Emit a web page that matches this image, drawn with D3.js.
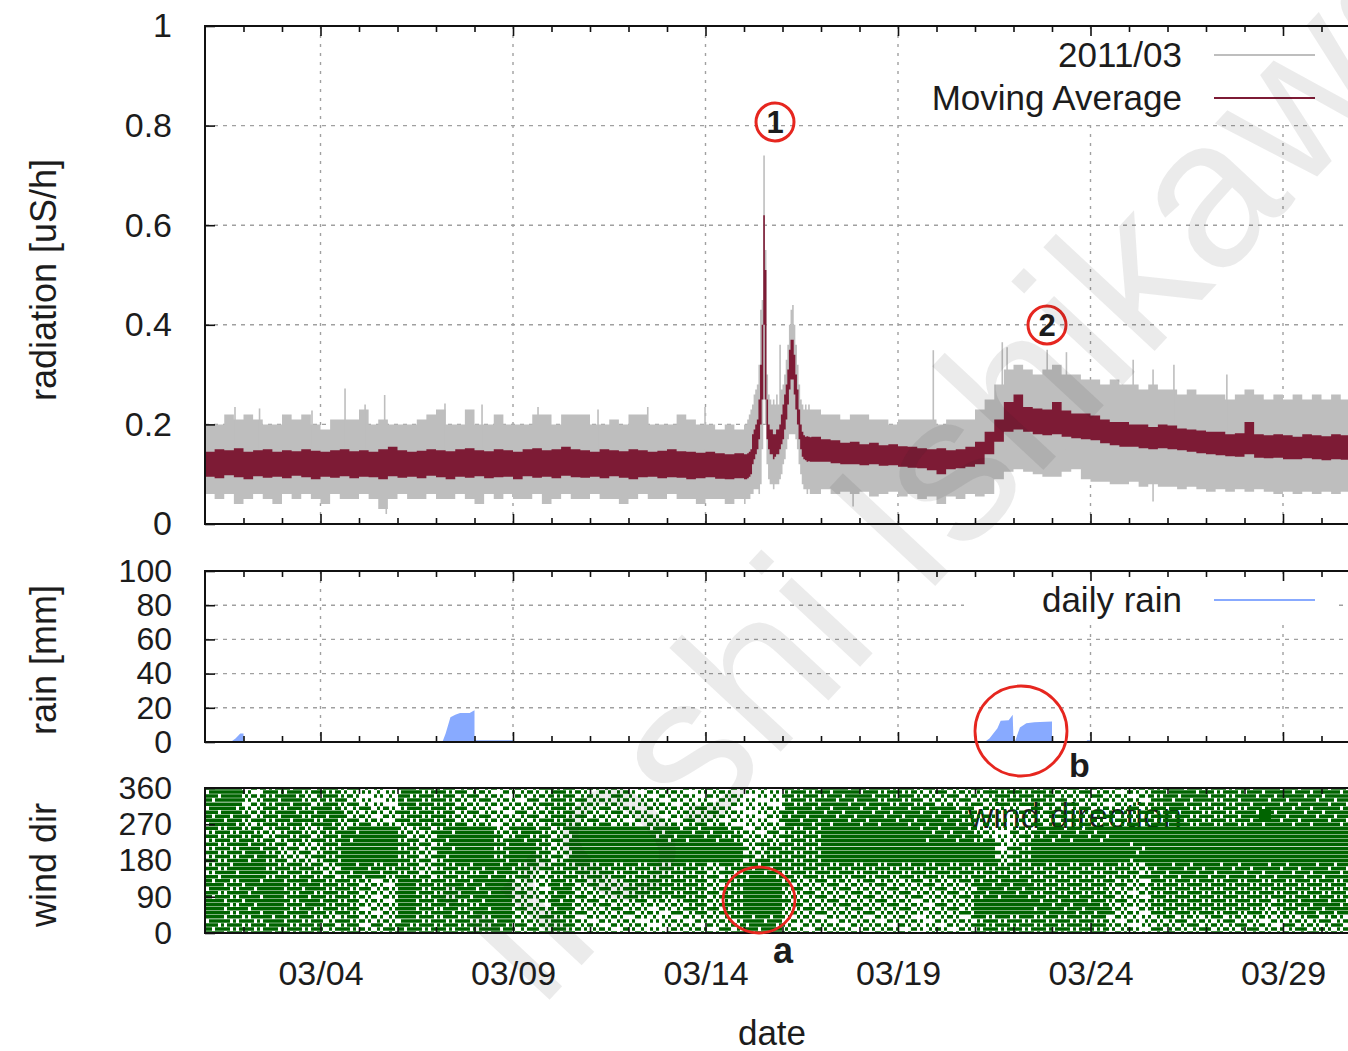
<!DOCTYPE html>
<html>
<head>
<meta charset="utf-8">
<script src="https://cdn.jsdelivr.net/npm/d3@7"></script>
<style>
  body { margin: 0; background: #fff; }
  svg { display: block; }
  text { font-family: "Liberation Sans", Arial, sans-serif; fill: #1c1c1c; }
</style>
</head>
<body>
<svg id="chart" width="1348" height="1051"></svg>
<script>
// ---------------- data ----------------
const START = Date.UTC(2011, 2, 1);          // 2011/03/01 00:00
const hourDate = h => new Date(START + h * 3600000);

// radiation, sampled every 6 h, hourly around the 03/15 - 03/16 peaks
const radHours = [].concat(d3.range(0, 336, 6), d3.range(336, 378, 1), d3.range(378, 745, 6));

// envelope of the raw 2011/03 series (uS/h)
const grayHigh = [
  0.20,0.20,0.22,0.21,0.22,0.21,0.20,0.20,0.22,0.21, 0.22,0.20,0.19,0.21,0.21,0.21,0.23,0.20,0.21,0.20,
  0.20,0.20,0.21,0.22,0.23,0.20,0.20,0.23,0.20,0.20, 0.22,0.20,0.20,0.20,0.22,0.22,0.20,0.22,0.22,0.22,
  0.20,0.20,0.21,0.20,0.22,0.22,0.20,0.20,0.20,0.22, 0.21,0.20,0.20,0.19,0.20,0.19,
  0.20,
  0.20,0.21,0.22,0.23,0.24,0.26,0.27,0.28,0.32,0.43, 0.45,0.74,0.55,0.30,0.26,0.25,0.24,0.25,0.24,0.26,
  0.24,0.36,0.27,0.28,0.30,0.33,0.36,0.40,0.43,0.44, 0.40,0.36,0.32,0.28,0.25,0.24,0.23,0.24,0.23,0.24,
  0.23,
  0.23,0.22,0.22,0.21,0.22,0.22,0.21,0.21,0.20,0.21, 0.21,0.21,0.21,0.20,0.21,0.21,0.21,0.23,0.25,0.28,
  0.31,0.32,0.31,0.30,0.31,0.32,0.30,0.30,0.29,0.29, 0.28,0.29,0.28,0.28,0.27,0.28,0.27,0.27,0.26,0.27,
  0.26,0.26,0.26,0.25,0.26,0.27,0.26,0.25,0.26,0.25, 0.26,0.25,0.26,0.25,0.26,0.25,0.25,0.25,0.25,0.25,
  0.25,0.25
];
const grayLow = [
  0.06,0.05,0.06,0.04,0.05,0.06,0.05,0.04,0.06,0.05, 0.06,0.05,0.04,0.06,0.05,0.05,0.06,0.05,0.03,0.05,
  0.06,0.05,0.05,0.06,0.05,0.05,0.06,0.05,0.04,0.06, 0.05,0.06,0.05,0.05,0.06,0.04,0.05,0.06,0.05,0.05,
  0.06,0.05,0.05,0.04,0.05,0.06,0.05,0.05,0.06,0.05, 0.05,0.04,0.05,0.05,0.04,0.05,
  0.04,
  0.05,0.05,0.05,0.06,0.06,0.07,0.07,0.07,0.06,0.08, 0.15,0.25,0.20,0.12,0.09,0.08,0.08,0.07,0.08,0.08,
  0.08,0.09,0.10,0.12,0.13,0.15,0.17,0.18,0.18,0.18, 0.18,0.17,0.15,0.12,0.10,0.08,0.07,0.07,0.06,0.07,
  0.06,
  0.06,0.07,0.06,0.065,0.06,0.065,0.055,0.06,0.065,0.055, 0.06,0.05,0.055,0.04,0.055,0.05,0.06,0.055,0.06,0.09,
  0.105,0.11,0.105,0.10,0.095,0.095,0.105,0.11,0.09,0.085, 0.085,0.08,0.08,0.085,0.075,0.08,0.075,0.075,0.07,0.075,
  0.07,0.065,0.07,0.065,0.07,0.065,0.07,0.065,0.06,0.065, 0.06,0.065,0.06,0.065,0.06,0.065,0.06,0.06,0.06,0.06,
  0.06,0.06
];
// envelope of the moving average
const avgHigh = [
  0.145,0.15,0.148,0.152,0.145,0.148,0.15,0.145,0.148,0.146, 0.15,0.147,0.145,0.148,0.15,0.146,0.148,0.145,0.15,0.155,
  0.148,0.145,0.147,0.15,0.148,0.146,0.15,0.152,0.148,0.146, 0.15,0.148,0.145,0.15,0.152,0.148,0.15,0.155,0.15,0.148,
  0.145,0.15,0.148,0.146,0.15,0.148,0.145,0.147,0.15,0.146, 0.145,0.143,0.145,0.142,0.14,0.142,
  0.14,
  0.14,0.142,0.145,0.15,0.18,0.19,0.20,0.21,0.25,0.32, 0.40,0.62,0.51,0.25,0.20,0.19,0.19,0.18,0.18,0.19,
  0.19,0.20,0.22,0.24,0.26,0.28,0.31,0.35,0.37,0.37, 0.34,0.30,0.27,0.23,0.20,0.185,0.178,0.175,0.176,0.175,
  0.174,
  0.175,0.17,0.168,0.163,0.165,0.16,0.163,0.158,0.16,0.156, 0.155,0.152,0.15,0.152,0.148,0.15,0.155,0.165,0.185,0.21,
  0.245,0.26,0.235,0.232,0.23,0.245,0.228,0.222,0.222,0.218, 0.21,0.205,0.205,0.2,0.2,0.195,0.2,0.198,0.192,0.19,
  0.188,0.185,0.185,0.18,0.182,0.205,0.18,0.178,0.18,0.178, 0.175,0.18,0.178,0.176,0.18,0.178,0.176,0.175,0.175,0.174,
  0.175,0.174
];
const avgLow = [
  0.095,0.092,0.098,0.094,0.09,0.096,0.093,0.095,0.092,0.097, 0.094,0.09,0.095,0.093,0.096,0.092,0.095,0.094,0.09,0.096,
  0.093,0.095,0.092,0.097,0.094,0.09,0.095,0.093,0.096,0.092, 0.094,0.095,0.09,0.096,0.093,0.095,0.092,0.097,0.094,0.093,
  0.095,0.092,0.096,0.093,0.09,0.094,0.095,0.092,0.094,0.093, 0.09,0.092,0.094,0.091,0.09,0.092,
  0.09,
  0.09,0.092,0.095,0.10,0.12,0.13,0.14,0.15,0.17,0.20, 0.25,0.40,0.25,0.17,0.15,0.14,0.14,0.13,0.135,0.14,
  0.14,0.15,0.16,0.17,0.19,0.21,0.24,0.27,0.29,0.29, 0.26,0.23,0.20,0.17,0.15,0.135,0.13,0.128,0.125,0.126,
  0.125,
  0.125,0.125,0.122,0.12,0.12,0.118,0.12,0.117,0.118,0.115, 0.113,0.112,0.108,0.10,0.11,0.112,0.115,0.12,0.14,0.165,
  0.185,0.19,0.185,0.18,0.178,0.18,0.175,0.172,0.17,0.168, 0.162,0.158,0.155,0.155,0.152,0.15,0.152,0.15,0.148,0.145,
  0.142,0.14,0.138,0.136,0.135,0.14,0.133,0.132,0.133,0.13, 0.13,0.132,0.13,0.128,0.13,0.129,0.128,0.128,0.128,0.128,
  0.128,0.128
];
// isolated tall / low readings of the raw series
const spikeHours  = [18.7, 34, 66.7, 87.3, 99.8, 112, 149.6, 172.7, 207.6, 245, 276, 311.7,
                     454, 497, 500, 525, 537, 578.6, 591, 604, 637];
const spikeValues = [0.235, 0.232, 0.228, 0.272, 0.24, 0.259, 0.242, 0.24, 0.235, 0.23, 0.235, 0.235,
                     0.349, 0.365, 0.355, 0.35, 0.345, 0.33, 0.31, 0.32, 0.30];
const dipHours  = [113, 404, 591];
const dipValues = [0.02, 0.035, 0.045];

// daily rain (mm), accumulated within each day
const rainHours = [0, 16, 19, 22, 24, 24, 148, 150, 153, 156, 159, 165, 168, 168, 192, 192,
                   486, 489, 494, 496, 501, 503.5, 504, 505, 508, 512, 517, 528, 528, 549, 550, 552, 552, 744];
const rainMM    = [0, 0, 2, 5, 5, 0, 0, 5, 14.5, 16, 17, 17, 18.5, 1, 1, 0,
                   0, 2, 8, 12.5, 12.7, 16, 1, 0.5, 8.5, 11, 11.5, 12, 0, 0, 1, 1, 0, 0];

// wind direction: share of 10-min readings (0-9) per 12 h and 45 deg sector
const windBinHours = 12;
const windSectors = [0, 45, 90, 135, 180, 225, 270, 315];
const windDensity = [
  "655655453465555644533332333466333333323355555553244444434444",   //   0 -  45
  "856756553375656743644443454588444444434488866664355555545666",   //  45 -  90
  "656756554375566743644455554577444444444466655554355555555555",   //  90 - 135
  "567555466554556654555555554566555555555555555555466666666666",   // 135 - 180
  "556544589854679575478888877745557777777773577777688888888888",   // 180 - 225
  "555454569844678465478886666534557777766642466667777777777777",   // 225 - 270
  "664565644355544344544433344323666666666532344444456555666666",   // 270 - 315
  "673564542265544334543423323322556665544445554443356655666666"    // 315 - 360
];

// axes
const radTicks  = [0, 0.2, 0.4, 0.6, 0.8, 1];
const rainTicks = [0, 20, 40, 60, 80, 100];
const windTicks = [0, 90, 180, 270, 360];
const labelDays = [4, 9, 14, 19, 24, 29];

// ---------------- layout ----------------
const svg = d3.select("#chart");
const X0 = 205, X1 = 1398.5;
const x = d3.scaleUtc().domain([hourDate(0), hourDate(744)]).range([X0, X1]);
const majorDates = labelDays.map(d => new Date(Date.UTC(2011, 2, d)));
const minorDates = d3.range(2, 32).filter(d => !labelDays.includes(d)).map(d => new Date(Date.UTC(2011, 2, d)));

const panels = {
  rad:  { top: 26,  bottom: 524, domain: [0, 1],   ticks: radTicks,  fs: 34, fmt: d => d === 0 ? "0" : d === 1 ? "1" : d3.format(".1f")(d) },
  rain: { top: 571, bottom: 742, domain: [0, 100], ticks: rainTicks, fs: 32, fmt: d3.format("d") },
  wind: { top: 788, bottom: 933, domain: [0, 360], ticks: windTicks, fs: 32, fmt: d3.format("d") }
};
Object.values(panels).forEach(p => { p.y = d3.scaleLinear().domain(p.domain).range([p.bottom, p.top]); });

const gray = "#bebebe", maroon = "#7d1b35", rainBlue = "#88aaff", windGreen = "#006400", red = "#e6261f";

const defs = svg.append("defs");
Object.entries(panels).forEach(([k, p]) => {
  defs.append("clipPath").attr("id", "clip-" + k)
    .append("rect").attr("x", X0).attr("y", p.top).attr("width", X1 - X0).attr("height", p.bottom - p.top);
});

// grid lines
function grid(p, yVals) {
  const g = svg.append("g").attr("stroke", "#a0a0a0").attr("stroke-width", 1.4);
  g.selectAll(".gy").data(yVals).join("line")
    .attr("x1", X0).attr("x2", X1).attr("y1", d => p.y(d)).attr("y2", d => p.y(d))
    .attr("stroke-dasharray", "4,5");
  g.selectAll(".gx").data(majorDates).join("line")
    .attr("x1", d => x(d)).attr("x2", d => x(d)).attr("y1", p.top).attr("y2", p.bottom)
    .attr("stroke-dasharray", "3,6");
}
grid(panels.rad, [0.2, 0.4, 0.6, 0.8]);
grid(panels.rain, [20, 40, 60, 80]);

// ---------------- radiation panel ----------------
const rp = panels.rad;
const radRows = radHours.map((h, i) => ({ t: hourDate(h), gh: grayHigh[i], gl: grayLow[i], ah: avgHigh[i], al: avgLow[i] }));
const radG = svg.append("g").attr("clip-path", "url(#clip-rad)");

radG.append("path").datum(radRows)
  .attr("fill", gray)
  .attr("d", d3.area().curve(d3.curveStepAfter).x(d => x(d.t)).y0(d => rp.y(d.gl)).y1(d => rp.y(d.gh)));

radG.selectAll(".spike").data(spikeHours.map((h, i) => ({ t: hourDate(h), v: spikeValues[i] })))
  .join("line").attr("stroke", gray).attr("stroke-width", 1.6)
  .attr("x1", d => x(d.t)).attr("x2", d => x(d.t)).attr("y1", rp.y(0.15)).attr("y2", d => rp.y(d.v));
radG.selectAll(".dip").data(dipHours.map((h, i) => ({ t: hourDate(h), v: dipValues[i] })))
  .join("line").attr("stroke", gray).attr("stroke-width", 1.6)
  .attr("x1", d => x(d.t)).attr("x2", d => x(d.t)).attr("y1", rp.y(0.1)).attr("y2", d => rp.y(d.v));

radG.append("path").datum(radRows)
  .attr("fill", maroon)
  .attr("d", d3.area().curve(d3.curveStepAfter).x(d => x(d.t)).y0(d => rp.y(d.al)).y1(d => rp.y(d.ah)));

// key (opaque box)
svg.append("rect").attr("x", 912).attr("y", 29).attr("width", 428).attr("height", 90).attr("fill", "#fff");
const radKey = [{ name: "2011/03", color: gray, y: 55 }, { name: "Moving Average", color: maroon, y: 98 }];
radKey.forEach(k => {
  svg.append("text").attr("x", 1182).attr("y", k.y + 12).attr("text-anchor", "end").attr("font-size", 35).text(k.name);
  svg.append("line").attr("x1", 1214).attr("x2", 1315).attr("y1", k.y).attr("y2", k.y).attr("stroke", k.color).attr("stroke-width", 2);
});

// ---------------- rain panel ----------------
const rn = panels.rain;
svg.append("g").attr("clip-path", "url(#clip-rain)")
  .append("path").datum(rainHours.map((h, i) => ({ t: hourDate(h), v: rainMM[i] })))
  .attr("fill", rainBlue)
  .attr("d", d3.area().x(d => x(d.t)).y0(rn.y(0)).y1(d => rn.y(d.v)));

svg.append("rect").attr("x", 964).attr("y", 578).attr("width", 372).attr("height", 42).attr("fill", "#fff");
svg.append("text").attr("x", 1182).attr("y", 612).attr("text-anchor", "end").attr("font-size", 35).text("daily rain");
svg.append("line").attr("x1", 1214).attr("x2", 1315).attr("y1", 600).attr("y2", 600).attr("stroke", rainBlue).attr("stroke-width", 2);

// ---------------- wind panel ----------------
const wp = panels.wind;
svg.append("text").attr("x", 1182).attr("y", 828).attr("text-anchor", "end").attr("font-size", 35).attr("fill", "#333").text("wind direction");

// readings come in 10 deg steps, so the marks sit on rows; each 12 h x 45 deg cell
// is shaded with an ordered dither matching its share of readings
const bayer = [[0, 8, 2, 10], [12, 4, 14, 6], [3, 11, 1, 9], [15, 7, 13, 5]];
const colW = 3;
let dots = "";
d3.range(0, 361, 10).forEach((deg, j) => {
  const py = wp.y(deg) - 1.75;
  const s = Math.min(windSectors.length - 1, Math.floor(Math.min(deg, 359) / 45));
  for (let i = 0, px = X0 + 1; px < X1 - 2; i++, px += colW) {
    const h = (x.invert(px + colW / 2) - START) / 3600000;
    const bin = Math.floor(h / windBinHours);
    if (bin >= windDensity[0].length) break;
    const level = Math.min(1, +windDensity[s][bin] / 6.8);
    if ((bayer[(j + (i >> 2)) % 4][i % 4] + 0.5) / 16 < level) dots += `M${px.toFixed(1)},${py.toFixed(1)}h3v3.5h-3z`;
  }
});
svg.append("g").attr("clip-path", "url(#clip-wind)")
  .append("path").attr("d", dots).attr("fill", windGreen);
svg.append("rect").attr("x", 1259).attr("y", 809).attr("width", 12).attr("height", 12).attr("fill", windGreen);

// ---------------- frames, ticks, labels ----------------
Object.entries(panels).forEach(([k, p]) => {
  const isWind = k === "wind";
  svg.append("g").attr("transform", `translate(0,${p.bottom})`)
    .call(d3.axisBottom(x).tickValues(majorDates).tickSize(-10).tickPadding(28)
      .tickFormat(isWind ? d3.utcFormat("%m/%d") : () => ""))
    .selectAll("text").attr("font-size", 34);
  svg.append("g").attr("transform", `translate(0,${p.bottom})`)
    .call(d3.axisBottom(x).tickValues(minorDates).tickSize(-6).tickFormat(() => ""));
  svg.append("g").attr("transform", `translate(0,${p.top})`)
    .call(d3.axisTop(x).tickValues(majorDates).tickSize(-10).tickFormat(() => ""));
  svg.append("g").attr("transform", `translate(0,${p.top})`)
    .call(d3.axisTop(x).tickValues(minorDates).tickSize(-6).tickFormat(() => ""));
  svg.append("g").attr("transform", `translate(${X0},0)`)
    .call(d3.axisLeft(p.y).tickValues(p.ticks).tickSize(-10).tickPadding(33).tickFormat(p.fmt))
    .selectAll("text").attr("font-size", p.fs);
  svg.append("rect").attr("x", X0).attr("y", p.top).attr("width", X1 - X0).attr("height", p.bottom - p.top)
    .attr("fill", "none").attr("stroke", "#111").attr("stroke-width", 2);
});
svg.selectAll(".domain").remove();
svg.selectAll(".tick line").attr("stroke", "#111").attr("stroke-width", 1.6);
svg.selectAll(".tick text").attr("fill", "#1c1c1c")
  .style("font-family", '"Liberation Sans", Arial, sans-serif');

const yTitles = [
  { text: "radiation [uS/h]", y: 280 },
  { text: "rain [mm]", y: 660 },
  { text: "wind dir", y: 865 }
];
yTitles.forEach(t => {
  svg.append("text").attr("transform", `translate(56,${t.y}) rotate(-90)`)
    .attr("text-anchor", "middle").attr("font-size", 36).text(t.text);
});
svg.append("text").attr("x", 772).attr("y", 1045).attr("text-anchor", "middle").attr("font-size", 35).text("date");

// ---------------- annotations ----------------
const notes = [
  { cx: 775, cy: 122, label: "1" },
  { cx: 1047, cy: 325, label: "2" }
];
notes.forEach(n => {
  svg.append("circle").attr("cx", n.cx).attr("cy", n.cy).attr("r", 19)
    .attr("fill", "none").attr("stroke", red).attr("stroke-width", 3);
  svg.append("text").attr("x", n.cx).attr("y", n.cy + 11).attr("text-anchor", "middle")
    .attr("font-size", 31).attr("font-weight", "bold").attr("fill", red).text(n.label);
});
svg.append("ellipse").attr("cx", 1021).attr("cy", 731).attr("rx", 46).attr("ry", 45)
  .attr("fill", "none").attr("stroke", red).attr("stroke-width", 2.8);
svg.append("text").attr("x", 1069).attr("y", 777).attr("font-size", 34).attr("font-weight", "bold").attr("fill", red).text("b");
svg.append("ellipse").attr("cx", 759).attr("cy", 900).attr("rx", 36).attr("ry", 33)
  .attr("fill", "none").attr("stroke", red).attr("stroke-width", 2.8);
svg.append("text").attr("x", 773).attr("y", 963).attr("font-size", 36).attr("font-weight", "bold").attr("fill", red).text("a");

// ---------------- watermark ----------------
svg.append("text").attr("transform", "translate(540,1010) rotate(-47)")
  .attr("font-size", 210).attr("fill", "#000").attr("fill-opacity", 0.09)
  .style("pointer-events", "none").text("iroshi Ishikawa");
</script>
</body>
</html>
